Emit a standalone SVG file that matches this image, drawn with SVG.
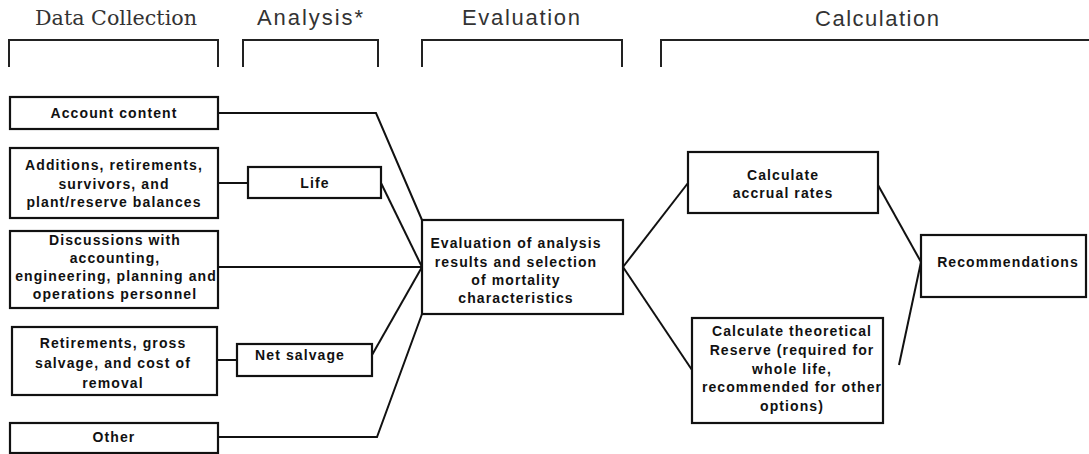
<svg xmlns="http://www.w3.org/2000/svg" width="1089" height="454" viewBox="0 0 1089 454">
<style>
.hdr{font-family:"Liberation Sans",Arial,sans-serif;font-size:22px;fill:#333}
.hdrs{font-family:"DejaVu Serif","Liberation Serif",serif;font-size:21px;fill:#333}
.br{fill:none;stroke:#222;stroke-width:2}
.box{fill:#fff;stroke:#111;stroke-width:2.2}
.t{font-family:"Liberation Sans",Arial,sans-serif;font-size:14px;font-weight:bold;fill:#111;letter-spacing:1.1px;text-anchor:middle}
.ln{fill:none;stroke:#111;stroke-width:2}
</style>
<g id="headers">
<text class="hdrs" x="35" y="25" textLength="162" lengthAdjust="spacingAndGlyphs">Data Collection</text>
<text class="hdr" x="257" y="25" textLength="106" lengthAdjust="spacing">Analysis*</text>
<text class="hdr" x="462" y="25" textLength="118" lengthAdjust="spacing">Evaluation</text>
<text class="hdr" x="815" y="26" textLength="124" lengthAdjust="spacing">Calculation</text>
<path class="br" d="M9,67 V40 H218 V67"/>
<path class="br" d="M243,67 V40 H378 V67"/>
<path class="br" d="M422,67 V40 H622 V67"/>
<path class="br" d="M661,67 V40 H1090"/>
</g>
<g id="connectors">
<path class="ln" d="M218,113 H376 L422,220"/>
<path class="ln" d="M218,183 H248"/>
<path class="ln" d="M381,183 L422,267"/>
<path class="ln" d="M218,267 H422"/>
<path class="ln" d="M217,360 H237"/>
<path class="ln" d="M372,355 L422,267"/>
<path class="ln" d="M218,437 H377 L422,314"/>
<path class="ln" d="M623,267 L688,183"/>
<path class="ln" d="M623,267 L692,370"/>
<path class="ln" d="M878,185 L921,262"/>
<path class="ln" d="M899,365 L921,262"/>
</g>
<g id="n-account">
<rect class="box" x="10" y="97" width="208" height="32"/>
<text class="t" x="114" y="118">Account content</text>
</g>
<g id="n-additions">
<rect class="box" x="10" y="148" width="208" height="70"/>
<text class="t" x="114" y="170">Additions, retirements,</text>
<text class="t" x="114" y="188.5">survivors, and</text>
<text class="t" x="114" y="207">plant/reserve balances</text>
</g>
<g id="n-discussions">
<rect class="box" x="10" y="231" width="208" height="77"/>
<text class="t" x="115" y="245">Discussions with</text>
<text class="t" x="115" y="263">accounting,</text>
<text class="t" x="116" y="281">engineering, planning and</text>
<text class="t" x="115" y="299">operations personnel</text>
</g>
<g id="n-retirements">
<rect class="box" x="12" y="327" width="205" height="68"/>
<text class="t" x="113" y="348">Retirements, gross</text>
<text class="t" x="113" y="368">salvage,  and cost of</text>
<text class="t" x="113" y="388">removal</text>
</g>
<g id="n-other">
<rect class="box" x="10" y="423" width="208" height="30"/>
<text class="t" x="114" y="442">Other</text>
</g>
<g id="n-life">
<rect class="box" x="248" y="167" width="133" height="31"/>
<text class="t" x="315" y="188">Life</text>
</g>
<g id="n-netsalvage">
<rect class="box" x="237" y="344" width="135" height="32"/>
<text class="t" x="300" y="360">Net salvage</text>
</g>
<g id="n-evaluation">
<rect class="box" x="422" y="220" width="201" height="94"/>
<text class="t" x="516" y="248">Evaluation of analysis</text>
<text class="t" x="516" y="267">results and selection</text>
<text class="t" x="516" y="285">of mortality</text>
<text class="t" x="516" y="303">characteristics</text>
</g>
<g id="n-accrual">
<rect class="box" x="688" y="152" width="190" height="61"/>
<text class="t" x="783" y="180">Calculate</text>
<text class="t" x="783" y="198">accrual rates</text>
</g>
<g id="n-theoretical">
<rect class="box" x="692" y="318" width="191" height="105"/>
<text class="t" x="792" y="336">Calculate theoretical</text>
<text class="t" x="792" y="355">Reserve (required for</text>
<text class="t" x="792" y="374">whole life,</text>
<text class="t" x="792" y="392">recommended for other</text>
<text class="t" x="792" y="411">options)</text>
</g>
<g id="n-recommendations">
<rect class="box" x="921" y="235" width="165" height="62"/>
<text class="t" x="1008" y="267">Recommendations</text>
</g>
</svg>
